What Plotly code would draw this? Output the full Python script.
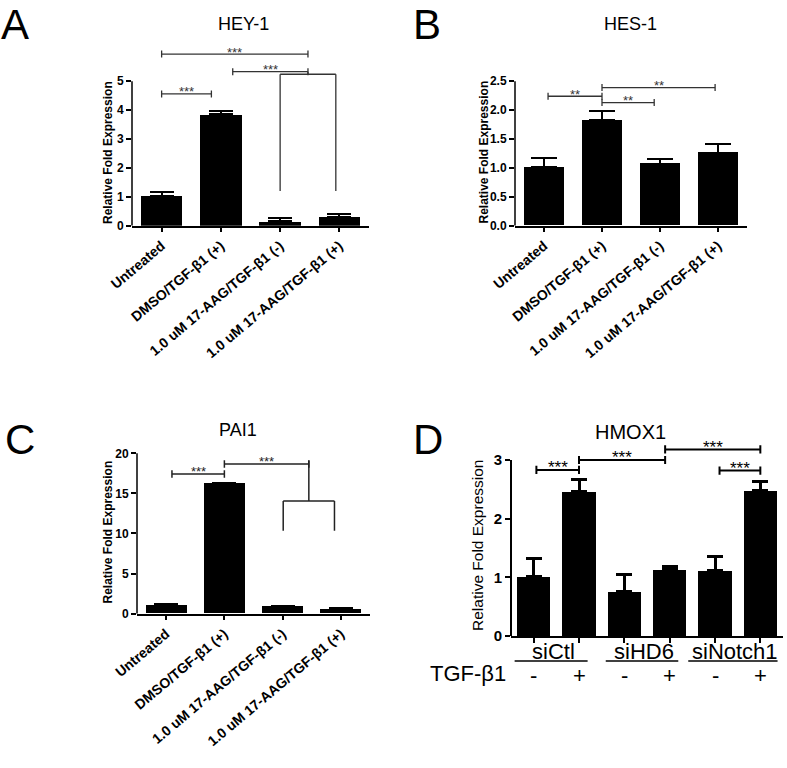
import plotly.graph_objects as go

# ---------------- data ----------------
cats_abc = ["Untreated", "DMSO/TGF-β1 (+)", "1.0 uM 17-AAG/TGF-β1 (-)", "1.0 uM 17-AAG/TGF-β1 (+)"]

hey1_vals = [1.02, 3.85, 0.15, 0.30]
hey1_err = [0.14, 0.12, 0.10, 0.12]
hey1_ticks = [0, 1, 2, 3, 4, 5]

hes1_vals = [1.01, 1.83, 1.07, 1.26]
hes1_err = [0.16, 0.16, 0.09, 0.15]
hes1_ticks = [0.0, 0.5, 1.0, 1.5, 2.0, 2.5]

pai1_vals = [1.08, 16.2, 0.87, 0.55]
pai1_err = [0.12, 0.12, 0.10, 0.12]
pai1_ticks = [0, 5, 10, 15, 20]

hmox1_x = [0, 1, 2, 3, 4, 5]
hmox1_vals = [1.01, 2.47, 0.75, 1.13, 1.12, 2.48]
hmox1_err = [0.31, 0.19, 0.29, 0.05, 0.24, 0.15]
hmox1_ticks = [0, 1, 2, 3]
hmox1_groups = ["siCtl", "siHD6", "siNotch1"]
tgf_signs = ["-", "+", "-", "+", "-", "+"]

# significance brackets: (x_start, x_end, y, label)
hey1_brackets = [(0, 0.84, 4.56, "***"), (0, 2.47, 5.94, "***"), (1.2, 2.47, 5.33, "***")]
hey1_fork = (2.0, 2.94, 5.24, 1.2, 5.33)      # x0, x1, top, bottom, connect-to y
hes1_brackets = [(0.07, 1.0, 2.24, "**"), (1.0, 1.9, 2.13, "**"), (1.0, 2.95, 2.39, "**")]
pai1_brackets = [(0.1, 1.0, 17.42, "***"), (1.0, 2.45, 18.67, "***")]
pai1_fork = (2.01, 2.89, 14.05, 10.35, 19.1)
hmox1_brackets = [(0.06, 1.0, 2.83, "***"), (1.0, 2.9, 3.0, "***"),
                  (2.9, 5.0, 3.18, "***"), (4.1, 5.0, 2.82, "***")]

# ---------------- layout geometry ----------------
W, H = 787, 768
FONT = "Liberation Sans, Arial, sans-serif"
geom = {
    1: dict(xl=132, xr=369, base=225.7, ppu=28.9, top=6.5, axtop=5, tick=0.12),
    2: dict(xl=515, xr=747, base=225.7, ppu=57.8, top=2.6, axtop=2.5, tick=0.06),
    3: dict(xl=137, xr=370, base=613.7, ppu=8.02, top=20.6, axtop=20, tick=0.47),
    4: dict(xl=511, xr=783, base=636.0, ppu=58.67, top=3.45, axtop=3, tick=0.07),
}

fig = go.Figure()
shapes = []
annotations = []


def dom(i):
    g = geom[i]
    xd = [g["xl"] / W, g["xr"] / W]
    yd = [1 - g["base"] / H, 1 - (g["base"] - g["top"] * g["ppu"]) / H]
    return xd, yd


def ax_names(i):
    s = "" if i == 1 else str(i)
    return "x" + s, "y" + s, "xaxis" + s, "yaxis" + s


def add_bars(i, x, vals, err, width, ethick, ewidth):
    xr, yr, _, _ = ax_names(i)
    fig.add_trace(go.Bar(
        x=x, y=vals, xaxis=xr, yaxis=yr, width=width,
        marker=dict(color="black", line=dict(width=0)),
        error_y=dict(type="data", symmetric=False, array=err, arrayminus=[0] * len(err),
                     color="black", thickness=ethick, width=ewidth),
        showlegend=False, hoverinfo="skip",
    ))


def line(i, x0, y0, x1, y1, color, w):
    xr, yr, _, _ = ax_names(i)
    shapes.append(dict(type="line", xref=xr, yref=yr, x0=x0, y0=y0, x1=x1, y1=y1,
                       line=dict(color=color, width=w)))


def add_brackets(i, brackets, color, w, fsize, yshift):
    xr, yr, _, _ = ax_names(i)
    t = geom[i]["tick"]
    for x0, x1, y, lab in brackets:
        line(i, x0, y, x1, y, color, w)
        line(i, x0, y - t, x0, y + t, color, w)
        line(i, x1, y - t, x1, y + t, color, w)
        annotations.append(dict(x=(x0 + x1) / 2, y=y, xref=xr, yref=yr, text=lab,
                                showarrow=False, yanchor="middle", yshift=yshift,
                                font=dict(family=FONT, size=fsize, color=color)))


def add_fork(i, fork, color, w):
    x0, x1, top, bot, conn = fork
    xc = (x0 + x1) / 2
    line(i, x0, top, x1, top, color, w)
    line(i, x0, top, x0, bot, color, w)
    line(i, x1, top, x1, bot, color, w)
    line(i, xc, top, xc, conn, color, w)


# bars
add_bars(1, cats_abc, hey1_vals, hey1_err, 0.7, 2, 12)
add_bars(2, cats_abc, hes1_vals, hes1_err, 0.7, 2, 13)
add_bars(3, cats_abc, pai1_vals, pai1_err, 0.7, 2, 12)
add_bars(4, hmox1_x, hmox1_vals, hmox1_err, 0.73, 3, 8)

# axes
layout_axes = {}
tickvals_map = {1: hey1_ticks, 2: hes1_ticks, 3: pai1_ticks, 4: hmox1_ticks}
for i in range(1, 5):
    xr, yr, xk, yk = ax_names(i)
    xd, yd = dom(i)
    big = (i == 4)
    lw = 2 if big else 1.5
    xa = dict(domain=xd, anchor=yr, range=[-0.5, (5.5 if big else 3.5)], automargin=False,
              showline=True, linecolor="black", linewidth=lw,
              ticks="outside", ticklen=5, tickwidth=lw, tickcolor="black",
              showgrid=False, zeroline=False, fixedrange=True)
    if big:
        xa.update(tickvals=hmox1_x, showticklabels=False)
    else:
        xa.update(type="category", tickangle=-40,
                  tickfont=dict(family=FONT, size=14, color="black", weight="bold"))
    ya = dict(domain=yd, anchor=xr, range=[0, geom[i]["top"]], automargin=False,
              showline=False, ticks="outside", ticklen=5, tickwidth=lw, tickcolor="black",
              tickvals=tickvals_map[i], showgrid=False, zeroline=False, fixedrange=True,
              tickfont=dict(family=FONT, size=(15 if big else 12), color="black", weight="bold"))
    if i == 2:
        ya.update(tickformat=".1f")
    layout_axes[xk] = xa
    layout_axes[yk] = ya
    # y-axis line only up to the last tick
    shapes.append(dict(type="line", xref=xr + " domain", yref=yr, x0=0, x1=0,
                       y0=0, y1=geom[i]["axtop"], line=dict(color="black", width=lw)))

# significance marks
add_brackets(1, hey1_brackets, "#333333", 1.3, 13, 2)
add_fork(1, hey1_fork, "#333333", 1.3)
add_brackets(2, hes1_brackets, "#333333", 1.3, 13, 2)
add_brackets(3, pai1_brackets, "#222222", 1.5, 13, 2)
add_fork(3, pai1_fork, "#222222", 1.5)
add_brackets(4, hmox1_brackets, "black", 2, 17, 2)


# titles, panel letters, y titles
def paper_ann(xpx, ypx, text, size, xanchor="center", yanchor="middle", angle=0,
              family=FONT, weight="normal"):
    annotations.append(dict(x=xpx / W, y=1 - ypx / H, xref="paper", yref="paper", text=text,
                            showarrow=False, xanchor=xanchor, yanchor=yanchor, textangle=angle,
                            borderpad=0,
                            font=dict(family=family, size=size, color="black", weight=weight)))


titles = ["HEY-1", "HES-1", "PAI1", "HMOX1"]
paper_ann(243, 24, titles[0], 18)
paper_ann(630, 24, titles[1], 18)
paper_ann(238, 430, titles[2], 18)
paper_ann(630, 432, titles[3], 20)

paper_ann(0, 0, "A", 42, xanchor="left", yanchor="top")
paper_ann(412, 0, "B", 42, xanchor="left", yanchor="top")
paper_ann(4, 415, "C", 42, xanchor="left", yanchor="top")
paper_ann(412, 415, "D", 42, xanchor="left", yanchor="top")

ytitle = "Relative Fold Expression"
paper_ann(107.5, 152.5, ytitle, 12, angle=-90, weight="bold")
paper_ann(483, 152.5, ytitle, 12, angle=-90, weight="bold")
paper_ann(107, 532.5, ytitle, 12, angle=-90, weight="bold")
paper_ann(477, 546, ytitle, 15.5, angle=-90)

# panel D group labels and TGF-β1 signs
underlines = [(-0.42, 1.19), (1.59, 3.19), (3.41, 5.38)]
for g, name in enumerate(hmox1_groups):
    annotations.append(dict(x=2 * g + 0.5, y=1 - 651 / H, xref="x4", yref="paper", text=name,
                            showarrow=False, xanchor="center", yanchor="middle", xshift=-3,
                            font=dict(family=FONT, size=22, color="black")))
    u0, u1 = underlines[g]
    shapes.append(dict(type="line", xref="x4", yref="paper", x0=u0, x1=u1,
                       y0=1 - 661 / H, y1=1 - 661 / H, line=dict(color="black", width=1.5)))
for k, s in enumerate(tgf_signs):
    annotations.append(dict(x=hmox1_x[k], y=1 - 675 / H, xref="x4", yref="paper", text=s,
                            showarrow=False, xanchor="center", yanchor="middle",
                            font=dict(family=FONT, size=22, color="black")))
paper_ann(507, 673, "TGF-β1", 22, xanchor="right")

fig.update_layout(
    width=W, height=H, margin=dict(l=0, r=0, t=0, b=0, pad=0, autoexpand=False),
    paper_bgcolor="white", plot_bgcolor="white", bargap=0,
    shapes=shapes, annotations=annotations, showlegend=False,
    font=dict(family=FONT, color="black"),
    **layout_axes,
)

fig.write_html("out.html", config={"displayModeBar": False},
               post_script="document.body.style.margin='0px';")
